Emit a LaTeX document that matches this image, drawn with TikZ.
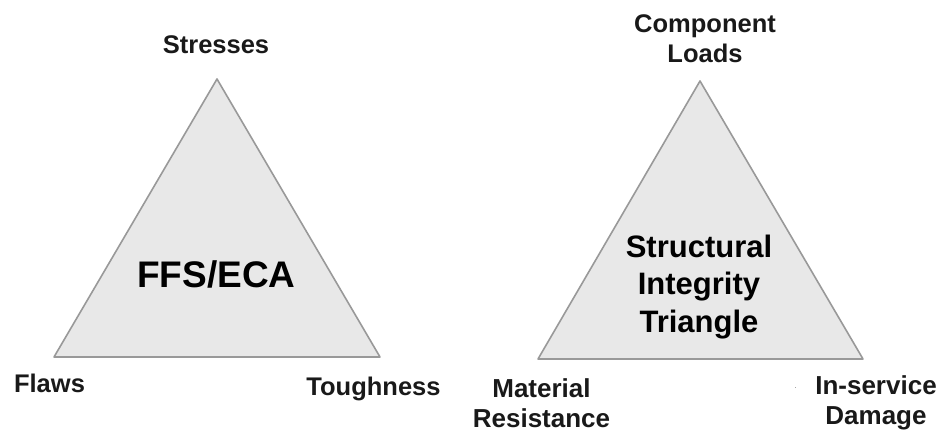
\documentclass[tikz,border=0pt]{standalone}
\usepackage{fontspec}
\setmainfont{Liberation Sans}
\begin{document}
\begin{tikzpicture}[x=1pt,y=-1pt,
  tri/.style={draw=black!40,fill=black!9,line width=1.6pt,line join=round},
  lbl/.style={inner sep=0pt,font=\fontsize{25.5}{30}\selectfont\bfseries,text=black!90,align=center},
  lblb/.style={inner sep=0pt,font=\fontsize{26}{30}\selectfont\bfseries,text=black!90,align=center},
  ctr/.style={inner sep=0pt,font=\fontsize{31}{37.5}\selectfont\bfseries,text=black,align=center}]
\useasboundingbox (0,0) rectangle (941,432);
% left triangle
\coordinate (LA) at (217,79);
\coordinate (LB) at (54,357);
\coordinate (LC) at (380,357);
\draw[tri] (LA) -- (LB) -- (LC) -- cycle;
\node[inner sep=0pt,font=\fontsize{37}{40}\selectfont\bfseries,anchor=base] (ffs) at (216.5,287) {FFS/ECA};
\node[lbl,anchor=base] (stress) at (216,53) {Stresses};
\node[lbl,anchor=base] (flaws) at (49.5,392) {Flaws};
\node[lbl,anchor=base] (tough) at (373.5,395) {Toughness};
% right triangle
\coordinate (RA) at (700,81);
\coordinate (RB) at (538,359);
\coordinate (RC) at (863,359);
\draw[tri] (RA) -- (RB) -- (RC) -- cycle;
\node[ctr,anchor=north] (sit) at (699,234.5) {Structural\\Integrity\\Triangle};
\node[lbl,anchor=north] (comp) at (705,14.5) {Component\\Loads};
\node[lblb,anchor=north] (mat) at (541.5,378.5) {Material\\Resistance};
\node[lblb,anchor=north] (inserv) at (876,375.5) {In-service\\Damage};
\fill[black!35] (794.5,386.5) rectangle (796,388);
\end{tikzpicture}
\end{document}
